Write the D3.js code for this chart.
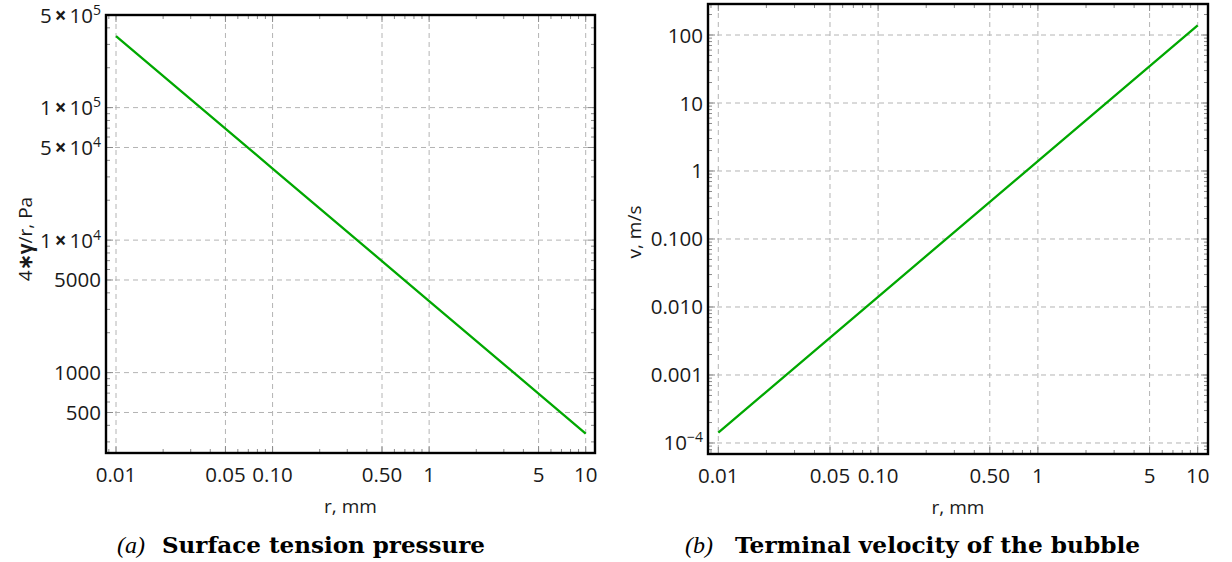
<!DOCTYPE html>
<html>
<head>
<meta charset="utf-8">
<script src="https://cdn.jsdelivr.net/npm/d3@7"></script>
<style>
  html, body { margin: 0; padding: 0; background: #fff; }
  svg { display: block; }
</style>
</head>
<body>
<svg id="chart" width="1232" height="562"></svg>
<script>
// Bubble radius (mm) at which the curves are sampled
const radius = [0.01, 0.1, 1, 10];
// Surface tension pressure 4*gamma/r, Pa
const pressure = [347000, 34700, 3470, 347];
// Terminal velocity of the bubble, m/s
const velocity = [1.42e-4, 0.0141, 1.40, 138];

// Tick labels
const xTicks = [0.01, 0.05, 0.1, 0.5, 1, 5, 10];
const xTickText = ["0.01", "0.05", "0.10", "0.50", "1", "5", "10"];
const pTicks = [5e5, 1e5, 5e4, 1e4, 5000, 1000, 500];
const pTickText = [["5", "5"], ["1", "5"], ["5", "4"], ["1", "4"], "5000", "1000", "500"];
const vTicks = [100, 10, 1, 0.1, 0.01, 0.001, 1e-4];
const vTickText = ["100", "10", "1", "0.100", "0.010", "0.001", ["10", "\u22124"]];

const svg = d3.select("#chart");
const lineColor = "#00a800";
const sans = "'Open Sans', sans-serif";

function minorTicks(lo, hi) {
  const out = [];
  for (let e = Math.floor(Math.log10(lo)) - 1; e <= Math.ceil(Math.log10(hi)); e++) {
    for (let m = 1; m <= 9; m++) {
      const v = m * Math.pow(10, e);
      if (v >= lo && v <= hi) out.push(v);
    }
  }
  return out;
}

function tickText(sel) {
  return sel.attr("font-family", sans).attr("font-size", 20.5)
    .attr("font-weight", 500).attr("fill", "#1a1a1a");
}

function panel(opt) {
  const g = svg.append("g");
  const x = d3.scaleLog().domain(opt.xDomain).range([opt.left, opt.right]);
  const y = d3.scaleLog().domain(opt.yDomain).range([opt.bottom, opt.top]);

  // dashed grid
  const grid = g.append("g").attr("stroke", "#b4b4b4").attr("stroke-width", 1)
    .attr("stroke-dasharray", "5,4").attr("fill", "none");
  grid.selectAll("line.gx").data(xTicks).join("line")
    .attr("x1", d => x(d)).attr("x2", d => x(d))
    .attr("y1", opt.top).attr("y2", opt.bottom);
  grid.selectAll("line.gy").data(opt.yTicks).join("line")
    .attr("x1", opt.left).attr("x2", opt.right)
    .attr("y1", d => y(d)).attr("y2", d => y(d));

  // inward ticks on all four sides
  const tk = g.append("g").attr("stroke", "#8a8a8a").attr("stroke-width", 1);
  const xMinor = minorTicks(opt.xDomain[0], opt.xDomain[1]);
  const yMinor = minorTicks(opt.yDomain[0], opt.yDomain[1]);
  const isMajorX = d => xTicks.some(t => Math.abs(Math.log10(t) - Math.log10(d)) < 1e-9);
  const isMajorY = d => opt.yTicks.some(t => Math.abs(Math.log10(t) - Math.log10(d)) < 1e-9);
  xMinor.forEach(d => {
    const len = isMajorX(d) ? 7 : 4;
    tk.append("line").attr("x1", x(d)).attr("x2", x(d)).attr("y1", opt.bottom).attr("y2", opt.bottom - len);
    tk.append("line").attr("x1", x(d)).attr("x2", x(d)).attr("y1", opt.top).attr("y2", opt.top + len);
  });
  yMinor.forEach(d => {
    const len = isMajorY(d) ? 7 : 4;
    tk.append("line").attr("y1", y(d)).attr("y2", y(d)).attr("x1", opt.left).attr("x2", opt.left + len);
    tk.append("line").attr("y1", y(d)).attr("y2", y(d)).attr("x1", opt.right).attr("x2", opt.right - len);
  });

  // data curve
  const line = d3.line().x((d, i) => x(radius[i])).y(d => y(d));
  g.append("path").datum(opt.values).attr("d", line)
    .attr("fill", "none").attr("stroke", lineColor).attr("stroke-width", 2.3);

  // frame
  g.append("rect").attr("x", opt.left).attr("y", opt.top)
    .attr("width", opt.right - opt.left).attr("height", opt.bottom - opt.top)
    .attr("fill", "none").attr("stroke", "#000").attr("stroke-width", 2.4);

  // x tick labels
  g.selectAll("text.xl").data(xTicks).join("text")
    .call(tickText).attr("x", d => x(d)).attr("y", opt.bottom + 29)
    .attr("text-anchor", "middle").text((d, i) => xTickText[i]);

  // y tick labels
  opt.yTicks.forEach((d, i) => {
    const lab = opt.yText[i];
    const t = g.append("text").call(tickText)
      .attr("x", opt.left - 5).attr("y", y(d) + 7.5).attr("text-anchor", "end");
    if (Array.isArray(lab)) {
      if (opt.sci) {
        t.append("tspan").text(lab[0]);
        t.append("tspan").attr("font-weight", "bold").attr("dx", 3).text("\u00d7");
        t.append("tspan").attr("dx", 3).text("10");
      } else {
        t.append("tspan").text(lab[0]);
      }
      t.append("tspan").attr("dy", -8).attr("font-size", 14).text(lab[1]);
    } else {
      t.text(lab);
    }
  });

  // axis titles
  g.append("text").attr("font-family", sans).attr("font-size", 19).attr("font-weight", 500)
    .attr("fill", "#1a1a1a")
    .attr("x", (opt.left + opt.right) / 2).attr("y", opt.bottom + 60)
    .attr("text-anchor", "middle").text("r, mm");
  const yt = g.append("text").attr("font-family", sans).attr("font-size", 19).attr("font-weight", 500)
    .attr("fill", "#1a1a1a")
    .attr("transform", `translate(${opt.yTitleX},${opt.yTitleY}) rotate(-90)`)
    .attr("text-anchor", "middle");
  opt.yTitle.forEach(p => yt.append("tspan").attr("font-weight", p[1] ? "bold" : null).text(p[0]));

  // caption
  svg.append("text").attr("x", opt.capX).attr("y", 553)
    .attr("font-family", "Liberation Serif, serif").attr("font-style", "italic")
    .attr("font-size", 24).text(opt.capTag);
  svg.append("text").attr("x", opt.capTextX).attr("y", 553)
    .attr("font-family", "DejaVu Serif, serif").attr("font-weight", "bold")
    .attr("font-size", 22).attr("textLength", opt.capLen).attr("lengthAdjust", "spacingAndGlyphs")
    .text(opt.capText);
}

panel({
  left: 106, right: 595, top: 15, bottom: 453,
  xDomain: [Math.pow(10, -2.0639), Math.pow(10, 1.0594)],
  yDomain: [Math.pow(10, 2.3933), 5e5],
  yTicks: pTicks, yText: pTickText, sci: true,
  values: pressure,
  yTitle: [["4", false], ["\u2217\u03b3", true], ["/r, Pa", false]],
  yTitleX: 32, yTitleY: 239,
  capX: 117, capTag: "(a)", capTextX: 162, capText: "Surface tension pressure", capLen: 323
});

panel({
  left: 708, right: 1208, top: 4, bottom: 454,
  xDomain: [Math.pow(10, -2.0645), Math.pow(10, 1.0645)],
  yDomain: [Math.pow(10, -4.1618), Math.pow(10, 2.4559)],
  yTicks: vTicks, yText: vTickText, sci: false,
  values: velocity,
  yTitle: [["v, m/s", false]],
  yTitleX: 641, yTitleY: 232,
  capX: 685, capTag: "(b)", capTextX: 735, capText: "Terminal velocity of the bubble", capLen: 405
});
</script>
</body>
</html>
